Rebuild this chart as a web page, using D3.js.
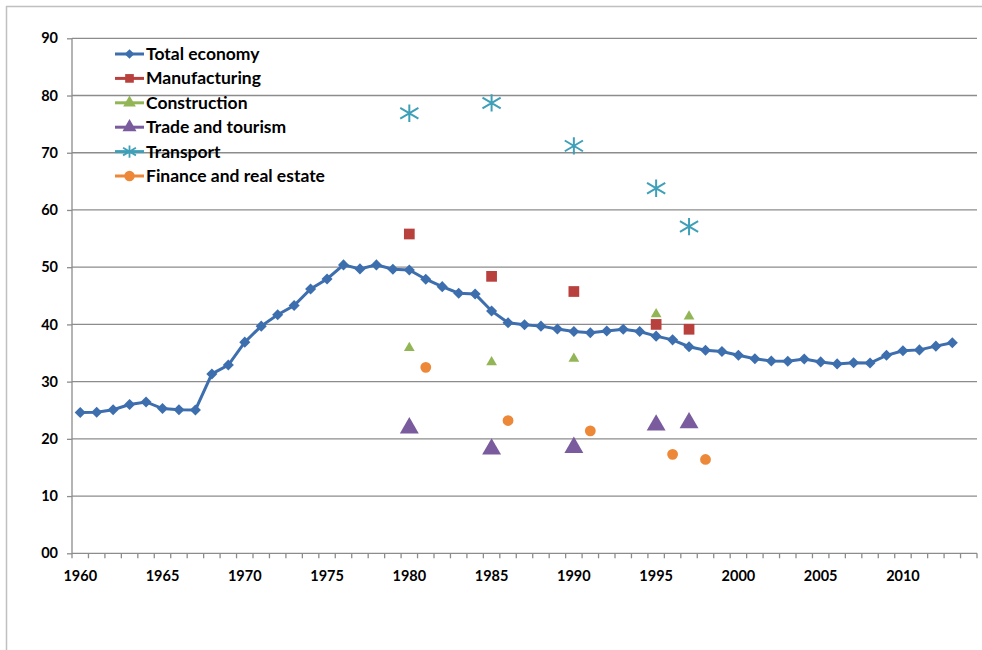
<!DOCTYPE html>
<html><head><meta charset="utf-8">
<script src="https://cdn.jsdelivr.net/npm/d3@7/dist/d3.min.js"></script>
<style>
html,body{margin:0;padding:0;background:#fff;}
svg text{font-family:Lato,"Open Sans",sans-serif;font-weight:bold;fill:#000;}
</style></head><body>
<svg id="c" width="982" height="650"></svg>
<script>
const years = d3.range(1960, 2015);
const yTicks = [0,10,20,30,40,50,60,70,80,90];
const yTickLabels = ["00","10","20","30","40","50","60","70","80","90"];
const xTickLabels = [1960,1965,1970,1975,1980,1985,1990,1995,2000,2005,2010];

const totalYears = d3.range(1960, 2014);
const totalValues = [24.6,24.65,25.1,26.0,26.45,25.3,25.1,25.05,31.35,32.9,
  36.9,39.7,41.7,43.3,46.2,47.95,50.4,49.7,50.4,49.65,
  49.5,47.9,46.6,45.45,45.3,42.35,40.3,39.95,39.7,39.2,
  38.75,38.55,38.85,39.15,38.75,37.95,37.3,36.1,35.5,35.25,
  34.6,34.0,33.6,33.55,33.95,33.45,33.1,33.3,33.25,34.6,
  35.4,35.55,36.2,36.8];
const manufYears = [1980,1985,1990,1995,1997];
const manufValues = [55.8,48.4,45.75,40.0,39.15];
const constrYears = [1980,1985,1990,1995,1997];
const constrValues = [35.9,33.4,34.0,41.8,41.4];
const tradeYears = [1980,1985,1990,1995,1997];
const tradeValues = [21.9,18.2,18.5,22.4,22.8];
const transYears = [1980,1985,1990,1995,1997];
const transValues = [76.9,78.7,71.2,63.8,57.1];
const finYears = [1981,1986,1991,1996,1998];
const finValues = [32.5,23.2,21.4,17.3,16.4];

const seriesNames = ["Total economy","Manufacturing","Construction","Trade and tourism","Transport","Finance and real estate"];
const seriesColors = ["#3d6eae","#b8403d","#92b655","#7a5b9e","#3ea0b8","#ec8838"];

const svg = d3.select("#c");
const L = 72, R = 977, T = 38.3, B = 553.3;

// outer frame
svg.append("line").attr("x1",6).attr("x2",982).attr("y1",6.5).attr("y2",6.5).attr("stroke","#c0c0c0").attr("stroke-width",1.5);
svg.append("line").attr("x1",6.5).attr("x2",6.5).attr("y1",6).attr("y2",650).attr("stroke","#c0c0c0").attr("stroke-width",1.5);

const x = d3.scaleBand().domain(years).range([L, R]);
const y = d3.scaleLinear().domain([0,90]).range([B, T]);
const cx = v => x(v) + x.bandwidth()/2;

// Excel-like star marker: vertical bar plus two diagonals
const excelStar = {draw(ctx, size){
  const h = Math.sqrt(size)/2, w = h*1.05, d = h*0.62;
  ctx.moveTo(0,-h); ctx.lineTo(0,h);
  ctx.moveTo(-w,-d); ctx.lineTo(w,d);
  ctx.moveTo(-w,d); ctx.lineTo(w,-d);
}};

// gridlines
svg.append("g").selectAll("line").data(yTicks.slice(1)).join("line")
  .attr("x1",L).attr("x2",R).attr("y1",d=>y(d)).attr("y2",d=>y(d))
  .attr("stroke","#8c8c8c").attr("stroke-width",1.3);

// y axis
const yAxis = d3.axisLeft(y).tickValues(yTicks).tickFormat((d,i)=>yTickLabels[i]).tickSize(5).tickPadding(9);
const gy = svg.append("g").attr("transform",`translate(${L},0)`).call(yAxis);
gy.select(".domain").attr("stroke","#8c8c8c").attr("stroke-width",1.3).attr("d",`M0,${B}V${T}`);
gy.selectAll(".tick line").attr("stroke","#8c8c8c").attr("stroke-width",1.3);
gy.selectAll("text").style("font-size","14.5px").attr("fill","#000");

// x axis
const gx = svg.append("g").attr("transform",`translate(0,${B})`);
gx.append("line").attr("x1",L).attr("x2",R).attr("stroke","#8c8c8c").attr("stroke-width",1.3);
gx.selectAll("line.t").data(years.concat([2015])).join("line").attr("class","t")
  .attr("x1",d=>d===2015?R:x(d)).attr("x2",d=>d===2015?R:x(d)).attr("y1",0).attr("y2",5)
  .attr("stroke","#8c8c8c").attr("stroke-width",1.3);
gx.selectAll("text").data(xTickLabels).join("text")
  .attr("x",d=>cx(d)).attr("y",28).attr("text-anchor","middle").style("font-size","14.5px").text(d=>d);

// symbols
const sym = (type, size) => d3.symbol().type(type).size(size)();
function drawSym(g, type, size, color, xs, vs){
  const stroked = type===excelStar;
  g.selectAll("path").data(xs.map((d,i)=>[d,vs[i]])).join("path")
    .attr("transform",d=>`translate(${cx(d[0])},${y(d[1])})`)
    .attr("d",sym(type,size))
    .attr("fill", stroked?"none":color)
    .attr("stroke", stroked?color:"none")
    .attr("stroke-width",2);
}

// total line
const line = d3.line().x((d,i)=>cx(totalYears[i])).y(d=>y(d));
svg.append("path").datum(totalValues).attr("d",line).attr("fill","none").attr("stroke",seriesColors[0]).attr("stroke-width",3);
drawSym(svg.append("g"), d3.symbolDiamond2, 78, seriesColors[0], totalYears, totalValues);

drawSym(svg.append("g"), d3.symbolSquare, 115, seriesColors[1], manufYears, manufValues);
drawSym(svg.append("g"), d3.symbolTriangle, 50, seriesColors[2], constrYears, constrValues);
drawSym(svg.append("g"), d3.symbolTriangle, 155, seriesColors[3], tradeYears, tradeValues);
drawSym(svg.append("g"), excelStar, 300, seriesColors[4], transYears, transValues);
drawSym(svg.append("g"), d3.symbolCircle, 92, seriesColors[5], finYears, finValues);

// legend
const legTypes = [d3.symbolDiamond2, d3.symbolSquare, d3.symbolTriangle, d3.symbolTriangle, excelStar, d3.symbolCircle];
const legSizes = [60, 75, 70, 85, 150, 85];
const lg = svg.append("g");
seriesNames.forEach((n,i)=>{
  const yy = 54 + i*24.4;
  lg.append("line").attr("x1",115).attr("x2",144).attr("y1",yy).attr("y2",yy).attr("stroke",seriesColors[i]).attr("stroke-width",3);
  const isAst = legTypes[i]===excelStar;
  lg.append("path").attr("transform",`translate(129.5,${yy})`).attr("d",sym(legTypes[i],legSizes[i]))
    .attr("fill",isAst?"none":seriesColors[i]).attr("stroke",isAst?seriesColors[i]:"none").attr("stroke-width",1.8);
  lg.append("text").attr("x",146).attr("y",yy+6).style("font-size","17.5px").text(n);
});
</script>
</body></html>
